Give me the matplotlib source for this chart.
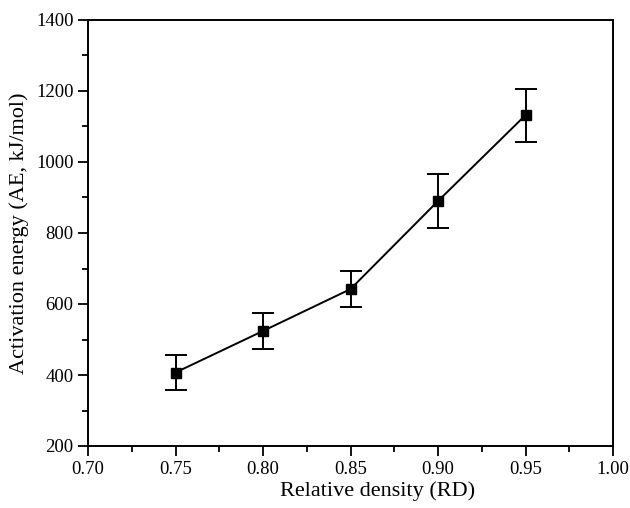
import matplotlib.pyplot as plt
from matplotlib.ticker import MultipleLocator

plt.rcParams['font.family'] = ['Liberation Serif', 'DejaVu Serif']

# data
rd = [0.75, 0.80, 0.85, 0.90, 0.95]
ae = [407, 524, 642, 890, 1132]
ae_err = [50, 50, 50, 75, 75]

fig = plt.figure(figsize=(6.3, 5.08), dpi=100)
ax = fig.add_axes([88 / 630, 62 / 508, 525 / 630, 426 / 508])

ax.errorbar(rd, ae, yerr=ae_err, color='black', marker='s', markersize=7,
            linewidth=1.4, elinewidth=1.4, capsize=8, capthick=1.4)

ax.set_xlim(0.70, 1.00)
ax.set_ylim(200, 1400)
ax.xaxis.set_major_locator(MultipleLocator(0.05))
ax.xaxis.set_minor_locator(MultipleLocator(0.025))
ax.yaxis.set_major_locator(MultipleLocator(200))
ax.yaxis.set_minor_locator(MultipleLocator(100))
ax.xaxis.set_major_formatter(lambda v, p: f'{v:.2f}')

ax.tick_params(which='both', direction='out', labelsize=13.5, width=1.3)
ax.tick_params(which='major', length=7)
ax.tick_params(which='minor', length=4)
for s in ax.spines.values():
    s.set_linewidth(1.4)

ax.set_xlabel('Relative density (RD)', fontsize=16)
ax.xaxis.set_label_coords((378 - 88) / 525, -0.083)
ax.set_ylabel('Activation energy (AE, kJ/mol)', fontsize=16, labelpad=5)

fig.savefig('out.png', dpi=100)
